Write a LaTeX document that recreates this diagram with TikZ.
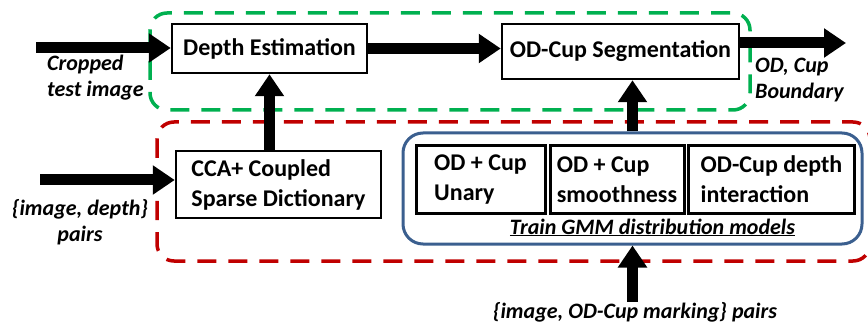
\documentclass[tikz,border=0pt]{standalone}
\usepackage{fontspec}
\setmainfont{Carlito}
\usetikzlibrary{arrows.meta,positioning}

\definecolor{grpgreen}{HTML}{00B050}
\definecolor{grpred}{HTML}{C00000}
\definecolor{gmmblue}{HTML}{3B5F8F}

\begin{document}
\begin{tikzpicture}[x=1pt, y=-1pt,
  every node/.style={font=\bfseries\fontsize{24}{30}\selectfont, inner sep=0pt},
  box/.style={draw, line width=2.5pt, fill=white, align=left, minimum height=67pt},
  note/.style={font=\bfseries\itshape\fontsize{22}{26}\selectfont},
  flow/.style={line width=11pt, -{Triangle[length=22pt,width=28pt]}},
  group/.style={line width=3.5pt, dash pattern=on 19pt off 12pt, rounded corners=17pt}]
  \useasboundingbox (0,0) rectangle (868,326);

  % test-time and training groups
  \draw[group, grpgreen] (150,13) rectangle (750,110);
  \draw[group, grpred] (157,122) rectangle (870,261);

  % main blocks
  \node[box, minimum width=195pt, minimum height=49pt] (depth) at (269.5,48.5) {Depth Estimation};
  \node[box, minimum width=237pt, minimum height=55pt] (seg) at (620.5,51.5) {OD-Cup Segmentation};
  \node[box, minimum width=205pt] (cca) at (278.5,184.5) {CCA+ Coupled\\Sparse Dictionary};

  % GMM training block
  \node[draw=gmmblue, line width=3pt, rounded corners=20pt,
        minimum width=459pt, minimum height=111pt] (gmm) at (632.5,188.5) {};
  \node[box, line width=3pt, minimum width=129pt] (unary) at (480.5,179.5) {OD + Cup\\Unary};
  \node[box, line width=3pt, minimum width=134pt] (smooth) at (617,179.5) {OD + Cup\\smoothness};
  \node[box, line width=3pt, minimum width=166pt] (inter) at (771.5,179.5) {OD-Cup depth\\interaction};
  \node[note, above=9pt of gmm.south, xshift=20pt] (gmmlbl)
    {\underline{Train GMM distribution models}};

  % inputs and outputs
  \coordinate (imgin) at (36,48);
  \coordinate (dictin) at (40,180);
  \coordinate (segout) at (846,43);
  \node[note, align=left, anchor=west] (croplbl) at (47,78) {Cropped\\test image};
  \node[note, align=center] (pairlbl) at (80,222) {\{image, depth\}\\pairs};
  \node[note, align=left, anchor=west] (outlbl) at (755,80) {OD, Cup\\Boundary};
  \node[note] (marklbl) at (635,312) {\{image, OD-Cup marking\} pairs};

  % arrows
  \draw[flow] (imgin) -- (imgin -| depth.west);
  \draw[flow] (depth.east) -- (depth.east -| seg.west);
  \draw[flow] (seg.east |- segout) -- (segout);
  \draw[flow] (dictin) -- (dictin -| cca.west);
  \draw[flow] (cca.north -| depth.south) -- (depth.south);
  \draw[flow] (gmm.north) -- (gmm.north |- seg.south);
  \draw[flow] (gmm.south |- marklbl.north) -- (gmm.south);
\end{tikzpicture}
\end{document}
